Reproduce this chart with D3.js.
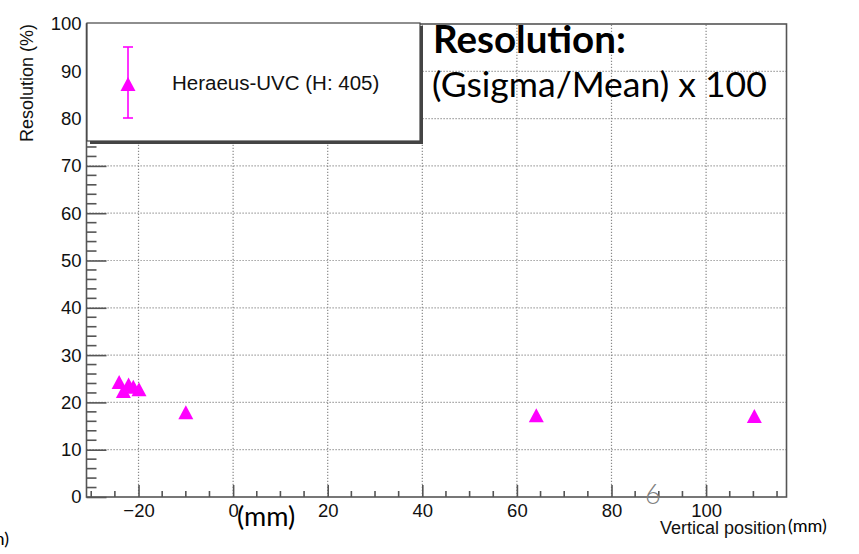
<!DOCTYPE html>
<html><head><meta charset="utf-8">
<script src="https://cdn.jsdelivr.net/npm/d3@7"></script>
<style>body{margin:0;background:#fff}svg{display:block}</style>
</head><body>
<script>
// ---- data ----
const xPos = [-24.1, -23.2, -22.1, -21.1, -19.9, -10.0, 64.1, 110.2];
const resolution = [24.3, 22.4, 23.8, 23.3, 22.8, 17.9, 17.3, 17.1];
const xMajorTicks = [-20, 0, 20, 40, 60, 80, 100];
const yMajorTicks = [0, 10, 20, 30, 40, 50, 60, 70, 80, 90, 100];
const seriesName = "Heraeus-UVC (H: 405)";
const yTitle = "Resolution (%)";
const xTitle = "Vertical position";

const W = 859, H = 554;
const svg = d3.select("body").append("svg").attr("width", W).attr("height", H);
const x = d3.scaleLinear().domain([-31, 117]).range([86.5, 786.5]);
const y = d3.scaleLinear().domain([0, 100]).range([497, 24]);
const axisCol = "#555", gridCol = "#8a8a8a", mag = "#ff00ff";
const helv = "'Liberation Sans', Arial, Helvetica, sans-serif";

// grid
const g = svg.append("g");
g.selectAll("line.gx").data(xMajorTicks).join("line")
  .attr("x1", d => x(d)).attr("x2", d => x(d)).attr("y1", y(0)).attr("y2", y(100))
  .attr("stroke", gridCol).attr("stroke-width", 1.2).attr("stroke-dasharray", "1.2,1.8");
g.selectAll("line.gy").data(yMajorTicks.filter(d => d > 0 && d < 100)).join("line")
  .attr("x1", x.range()[0]).attr("x2", x.range()[1]).attr("y1", d => y(d)).attr("y2", d => y(d))
  .attr("stroke", gridCol).attr("stroke-width", 1.2).attr("stroke-dasharray", "1.2,1.8");

// frame
svg.append("rect").attr("x", x.range()[0]).attr("y", y(100))
  .attr("width", x.range()[1] - x.range()[0]).attr("height", y(0) - y(100))
  .attr("fill", "none").attr("stroke", axisCol).attr("stroke-width", 1.6);

// x axis ticks (inward)
const xMinor = d3.range(-30, 117, 5).filter(d => !xMajorTicks.includes(d));
const xAxis = d3.axisBottom(x).tickValues(xMajorTicks).tickSize(-12).tickPadding(7)
  .tickFormat(d => d < 0 ? "\u2212" + Math.abs(d) : d);
const xa = svg.append("g").attr("transform", `translate(0,${y(0)})`).call(xAxis);
xa.select(".domain").remove();
xa.selectAll(".tick line").attr("stroke", axisCol).attr("stroke-width", 1.6);
xa.selectAll(".tick text").attr("font-family", helv).attr("font-size", 18.5).attr("fill", "#111");
svg.append("g").selectAll("line").data(xMinor).join("line")
  .attr("x1", d => x(d)).attr("x2", d => x(d)).attr("y1", y(0)).attr("y2", y(0) - 6)
  .attr("stroke", axisCol).attr("stroke-width", 1.6);

// y axis ticks (inward)
const yMinor = d3.range(0, 100.1, 2).filter(d => d % 10 !== 0);
const yAxis = d3.axisLeft(y).tickValues(yMajorTicks).tickSize(-20).tickPadding(5);
const ya = svg.append("g").attr("transform", `translate(${x.range()[0]},0)`).call(yAxis);
ya.select(".domain").remove();
ya.selectAll(".tick line").attr("stroke", axisCol).attr("stroke-width", 1.6);
ya.selectAll(".tick text").attr("font-family", helv).attr("font-size", 18.5).attr("fill", "#111");
svg.append("g").selectAll("line").data(yMinor).join("line")
  .attr("x1", x.range()[0]).attr("x2", x.range()[0] + 10).attr("y1", d => y(d)).attr("y2", d => y(d))
  .attr("stroke", axisCol).attr("stroke-width", 1.6);

// axis titles
svg.append("text").attr("transform", "translate(33,83) rotate(-90)").attr("text-anchor", "middle")
  .attr("font-family", helv).attr("font-size", 18).attr("fill", "#111").text(yTitle);
svg.append("text").attr("x", 786).attr("y", 534).attr("text-anchor", "end")
  .attr("font-family", helv).attr("font-size", 18).attr("fill", "#111").text(xTitle);

// points
const tri = "M0,-7L7.5,7L-7.5,7Z";
svg.append("g").selectAll("path").data(xPos).join("path")
  .attr("d", tri).attr("fill", mag)
  .attr("transform", (d, i) => `translate(${x(d)},${y(resolution[i])})`);

// legend box
const lx = 87, ly = 23, lw = 333, lh = 118;
svg.append("rect").attr("x", lx + 3).attr("y", ly + 3).attr("width", lw).attr("height", lh).attr("fill", "#444");
svg.append("rect").attr("x", lx).attr("y", ly).attr("width", lw).attr("height", lh)
  .attr("fill", "#fff").attr("stroke", "#444").attr("stroke-width", 1.2);
svg.append("line").attr("x1", 128).attr("x2", 128).attr("y1", 47).attr("y2", 118)
  .attr("stroke", mag).attr("stroke-width", 1.6);
[47, 118].forEach(v => svg.append("line").attr("x1", 123).attr("x2", 133).attr("y1", v).attr("y2", v)
  .attr("stroke", mag).attr("stroke-width", 1.6));
svg.append("path").attr("d", tri).attr("fill", mag).attr("transform", "translate(128,84)");
svg.append("text").attr("x", 172).attr("y", 90).attr("font-family", helv).attr("font-size", 20.5)
  .attr("fill", "#111").text(seriesName);

// overlaid annotations
const lato = "Lato, 'Open Sans', sans-serif";
svg.append("text").attr("x", 433).attr("y", 53).attr("font-family", lato).attr("font-weight", 700)
  .attr("font-size", 38.5).attr("fill", "#000").text("Resolution:");
svg.append("text").attr("x", 432).attr("y", 97).attr("font-family", lato)
  .attr("font-size", 35.5).attr("fill", "#000").text("(Gsigma/Mean) x 100");
svg.append("text").attr("x", 237).attr("y", 526).attr("font-family", lato)
  .attr("font-size", 27).attr("fill", "#000").text("(mm)");
svg.append("text").attr("x", 788).attr("y", 532).attr("font-family", lato)
  .attr("font-size", 18).attr("fill", "#000").text("(mm)");
svg.append("text").attr("x", 9).attr("y", 545).attr("text-anchor", "end").attr("font-family", lato)
  .attr("font-size", 18).attr("fill", "#000").text("(mm)");
svg.append("text").attr("x", 645).attr("y", 504).attr("font-family", lato).attr("font-weight", 300)
  .attr("font-size", 27).attr("fill", "#808080").text("6");
</script>
</body></html>
